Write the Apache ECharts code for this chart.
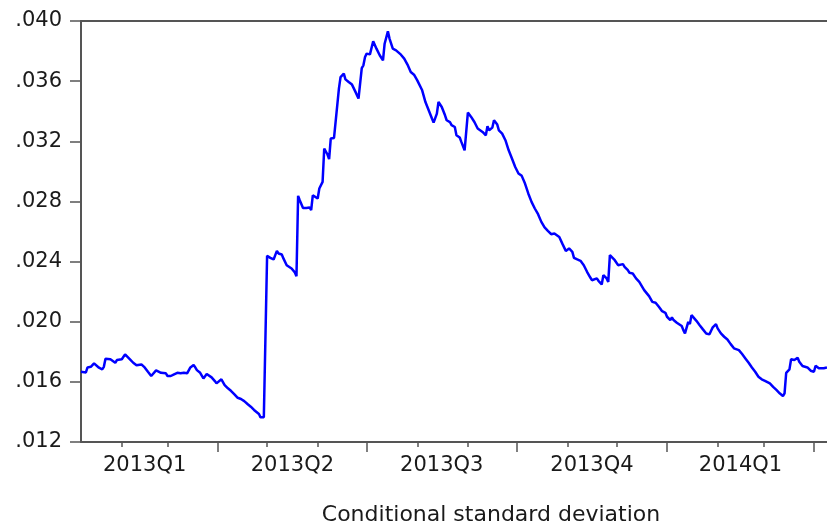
<!DOCTYPE html>
<html>
<head>
<meta charset="utf-8">
<script src="https://cdn.jsdelivr.net/npm/echarts@6/dist/echarts.min.js"></script>
<style>
html,body{margin:0;padding:0;background:#fff;}
#chart{width:827px;height:529px;}
</style>
</head>
<body>
<div id="chart"></div>
<script>
// Days since 2013-01-01 for each observation
const daysFrom2013 = [
6,7,9,10,12,13,14,15,17,19,20,21,24,25,27,28,29,31,33,34,36,38,40,41,43,45,47,49,50,52,53,55,56,58,59,61,63,65,67,69,71,72,73,75,76,77,79,81,83,84,86,88,89,90,92,93,94,96,98,100,102,104,106,108,110,112,115,116,118,119,
120,122,124,125,126,127,129,130,132,135,137,138,139,140,142,144,146,147,148,149,151,152,154,155,157,158,159,161,162,164,165,167,168,170,172,174,176,178,179,180,181,183,185,187,189,191,192,194,195,197,199,200,202,204,206,208,210,212,215,
217,219,221,222,224,225,227,229,230,232,233,235,236,238,239,241,242,243,245,247,249,250,252,253,254,255,256,258,259,261,262,264,266,268,270,272,274,276,278,280,282,284,286,288,290,292,294,296,297,299,301,303,304,305,307,308,
310,311,312,314,316,318,319,320,322,323,325,326,328,329,330,331,333,335,336,338,339,341,342,344,346,348,349,351,354,356,358,359,360,362,364,365,367,368,369,371,372,374,375,376,378,379,380,381,383,385,387,389,391,392,393,395,396,398,400,402,404,406,409,411,413,415,417,419,421,423,425,426,428,430,432,434,436,437,438,440,441,442,443,445,446,448,451,452,453,454,455,456,458,459,461,462,463
];
// Conditional standard deviation
const condStdDev = [
0.01667,0.01674,0.01663,0.01696,0.01700,0.01696,0.01723,0.01710,0.01694,0.01683,0.01700,0.01754,0.01750,0.01743,0.01727,0.01745,0.01738,0.01750,0.01783,0.01776,
0.01750,0.01727,0.01710,0.01700,0.01716,0.01696,0.01667,0.01639,0.01650,0.01676,0.01674,0.01660,0.01660,0.01657,0.01639,0.01639,0.01650,0.01660,0.01657,0.01660,
0.01657,0.01660,0.01696,0.01712,0.01696,0.01678,0.01660,0.01623,0.01652,0.01650,0.01630,0.01605,0.01590,0.01601,0.01617,0.01607,0.01579,0.01557,0.01539,0.01517,
0.01494,0.01486,0.01472,0.01453,0.01435,0.01413,0.01386,0.01364,0.01364,0.01368,
0.02438,0.02425,0.02414,0.02443,0.02471,0.02454,0.02447,0.02421,0.02376,0.02354,0.02328,0.02303,0.02837,0.02808,0.02757,0.02757,0.02760,0.02742,0.02841,0.02830,
0.02819,0.02886,0.02930,0.03152,0.03112,0.03081,0.03218,0.03222,0.03222,0.03550,0.03627,0.03650,0.03612,0.03594,0.03577,0.03532,0.03484,0.03687,0.03705,0.03760,
0.03783,0.03778,0.03865,0.03816,0.03772,0.03738,0.03849,0.03931,0.03883,0.03816,0.03805,0.03816,0.03776,0.03750,0.03710,0.03661,0.03643,0.03605,0.03539,
0.03461,0.03406,0.03351,0.03324,0.03384,0.03461,0.03428,0.03373,0.03340,0.03328,0.03307,0.03295,0.03240,0.03225,0.03196,0.03140,0.03129,0.03391,0.03362,0.03328,
0.03285,0.03285,0.03262,0.03269,0.03240,0.03300,0.03273,0.03291,0.03340,0.03311,0.03273,0.03251,0.03207,0.03140,0.03085,0.03029,0.02986,0.02970,0.02919,0.02853,
0.02797,0.02753,0.02715,0.02664,0.02627,0.02604,0.02582,0.02587,0.02591,0.02564,0.02516,0.02471,0.02465,0.02487,0.02465,0.02425,
0.02414,0.02427,0.02405,0.02376,0.02332,0.02294,0.02276,0.02288,0.02288,0.02272,0.02248,0.02310,0.02288,0.02265,0.02443,0.02443,0.02409,0.02376,0.02365,0.02383,
0.02365,0.02343,0.02325,0.02321,0.02288,0.02265,0.02255,0.02210,0.02170,0.02132,0.02126,0.02128,0.02099,0.02070,0.02059,0.02033,0.02011,0.02029,0.02011,0.01993,
0.01993,0.01971,0.01944,0.01922,0.01999,0.01984,0.02044,0.02033,0.02006,0.01977,0.01949,0.01922,0.01916,0.01940,0.01962,0.01984,0.01956,0.01922,0.01900,0.01882,
0.01851,0.01823,0.01811,0.01785,0.01756,0.01727,0.01696,0.01667,0.01634,0.01617,0.01607,0.01612,0.01590,0.01567,0.01546,0.01524,0.01506,0.01524,0.01660,0.01683,
0.01750,0.01760,0.01745,0.01760,0.01734,0.01705,0.01696,0.01690,0.01674,0.01683,0.01667,0.01707,0.01690,0.01678,0.01690,0.01700,0.01696
];
// Axis tick positions (days since 2013-01-01)
const monthStarts = [31, 59, 120, 151, 212, 243, 304, 334, 396, 424];
const quarterStarts = [90, 181, 273, 365, 455];
const quarterMids = [45, 135.5, 227, 319, 410];
const quarterLabels = ['2013Q1', '2013Q2', '2013Q3', '2013Q4', '2014Q1'];

const seriesData = daysFrom2013.map((d, i) => [d, condStdDev[i]]);
const axisColor = '#555555';
const font = 'DejaVu Sans';
const xMin = 6, xMax = 463;

const chart = echarts.init(document.getElementById('chart'), null, {renderer: 'canvas'});
chart.setOption({
  animation: false,
  backgroundColor: '#ffffff',
  title: {
    text: 'Conditional standard deviation',
    left: 491,
    top: 504,
    padding: 0,
    textAlign: 'center',
    textStyle: {fontFamily: font, fontSize: 22, fontWeight: 'normal', color: '#1a1a1a'}
  },
  grid: {left: 81, right: 0, top: 21, bottom: 87},
  xAxis: [
    {
      type: 'value', min: xMin, max: xMax, position: 'bottom',
      axisLine: {show: true, onZero: false, lineStyle: {color: axisColor, width: 2}},
      axisTick: {show: true, customValues: monthStarts, length: 5, lineStyle: {color: axisColor, width: 1.5}},
      axisLabel: {
        show: true, customValues: quarterMids, margin: 13,
        fontFamily: font, fontSize: 21, color: '#1a1a1a',
        formatter: function (v) {
          const i = quarterMids.findIndex(m => Math.abs(m - v) < 0.01);
          return i >= 0 ? quarterLabels[i] : '';
        }
      },
      splitLine: {show: false}
    },
    {
      type: 'value', min: xMin, max: xMax, position: 'bottom',
      axisLine: {show: false, onZero: false},
      axisTick: {show: true, customValues: quarterStarts, length: 10, lineStyle: {color: axisColor, width: 1.5}},
      axisLabel: {show: false},
      splitLine: {show: false}
    },
    {
      type: 'value', min: xMin, max: xMax, position: 'top',
      axisLine: {show: true, onZero: false, lineStyle: {color: axisColor, width: 2}},
      axisTick: {show: false},
      axisLabel: {show: false},
      splitLine: {show: false}
    }
  ],
  yAxis: {
    type: 'value', min: 0.012, max: 0.040, interval: 0.004,
    axisLine: {show: true, onZero: false, lineStyle: {color: axisColor, width: 2}},
    axisTick: {show: true, length: 11, lineStyle: {color: axisColor, width: 1.5}},
    axisLabel: {
      margin: 19, fontFamily: font, fontSize: 21, color: '#1a1a1a',
      formatter: function (v) { return v.toFixed(3).replace(/^0/, ''); }
    },
    splitLine: {show: false}
  },
  series: [{
    type: 'line',
    xAxisIndex: 0,
    data: seriesData,
    showSymbol: false,
    symbol: 'none',
    smooth: false,
    lineStyle: {color: '#0000ff', width: 2.5},
    emphasis: {disabled: true}
  }]
});
</script>
</body>
</html>
